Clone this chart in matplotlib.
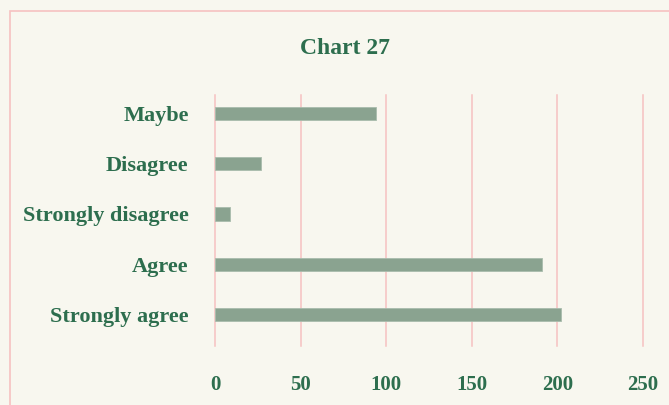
import matplotlib.pyplot as plt
from matplotlib.patches import Rectangle

# data
categories = ["Strongly agree", "Agree", "Strongly disagree", "Disagree", "Maybe"]
values = [202, 191, 9, 27, 94]
x_ticks = [0, 50, 100, 150, 200, 250]

bg = "#f8f7ef"
bar_color = "#8aa390"
text_color = "#2d6e4e"
grid_color = "#f6c1c1"

plt.rcParams["font.family"] = ["Liberation Serif", "DejaVu Serif"]

fig = plt.figure(figsize=(6.69, 4.05), dpi=100, facecolor=bg)
ax = fig.add_axes([215 / 669, 1 - 346 / 405, (643 - 215) / 669, (346 - 95) / 405])
ax.set_facecolor(bg)

# outer pink frame, runs off the right and bottom edges
fig.patches.append(Rectangle((10 / 669, -0.1), 1.2, 1 - 11 / 405 + 0.1,
                             transform=fig.transFigure, fill=False,
                             edgecolor=grid_color, linewidth=1.2))

ax.barh(range(len(categories)), values, height=0.26, color=bar_color,
        edgecolor="#a9bcac", linewidth=0.6, zorder=3)

ax.set_xlim(0, 250)
ax.set_ylim(-0.62, 4.36)
ax.set_xticks(x_ticks)
ax.set_xticklabels([str(t) for t in x_ticks])
ax.set_yticks(range(len(categories)))
ax.set_yticklabels(categories)

ax.grid(axis="x", color=grid_color, linewidth=1.1, zorder=0)
for gl in ax.get_xgridlines():
    gl.set_clip_on(False)
for s in ax.spines.values():
    s.set_visible(False)
ax.tick_params(length=0, colors=text_color)
ax.tick_params(axis="x", pad=21, labelsize=15)
ax.tick_params(axis="y", pad=19, labelsize=16)
for lab in ax.get_xticklabels() + ax.get_yticklabels():
    lab.set_fontweight("bold")
    lab.set_color(text_color)

fig.text(345 / 669, 1 - 48 / 405, "Chart 27", ha="center", va="center",
         fontsize=17, fontweight="bold", color=text_color)

fig.savefig("out.png", dpi=100, facecolor=bg)
